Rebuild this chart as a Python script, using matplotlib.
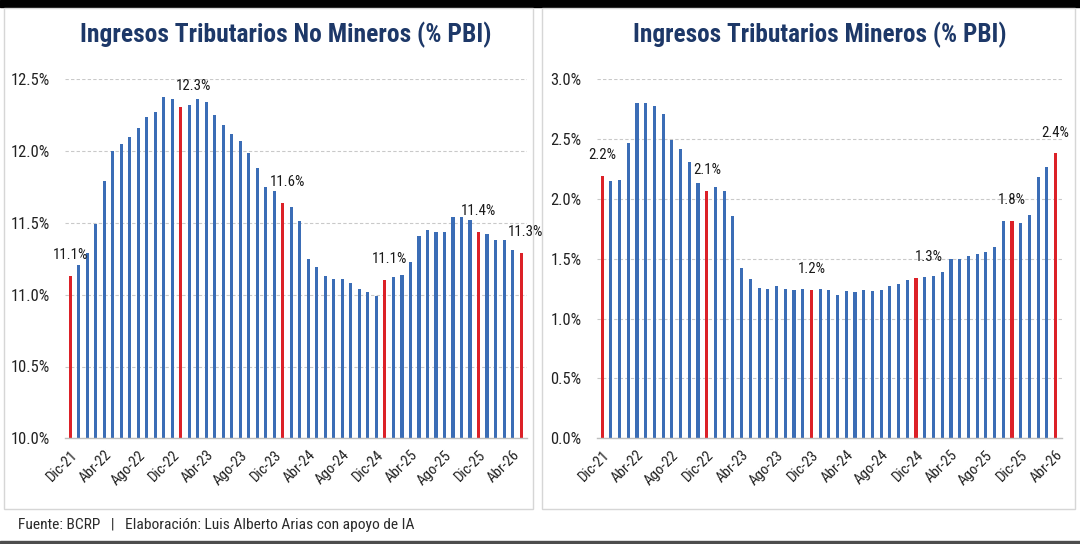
import numpy as np
import matplotlib
matplotlib.use('Agg')
import matplotlib.pyplot as plt
import matplotlib.font_manager as fm
from matplotlib.patches import Rectangle
from matplotlib.ticker import MultipleLocator, FuncFormatter

# ----- data -----
tick_labels = ['Dic-21', 'Abr-22', 'Ago-22', 'Dic-22', 'Abr-23', 'Ago-23', 'Dic-23',
               'Abr-24', 'Ago-24', 'Dic-24', 'Abr-25', 'Ago-25', 'Dic-25', 'Abr-26']

no_mineros = [11.13, 11.21, 11.29, 11.49, 11.79, 12.00, 12.05, 12.10, 12.16, 12.24,
              12.27, 12.38, 12.36, 12.31, 12.32, 12.36, 12.34, 12.25, 12.18, 12.12,
              12.07, 11.99, 11.88, 11.75, 11.72, 11.64, 11.61, 11.51, 11.25, 11.19,
              11.13, 11.11, 11.11, 11.08, 11.04, 11.02, 10.99, 11.10, 11.12, 11.14,
              11.23, 11.41, 11.45, 11.44, 11.44, 11.54, 11.54, 11.52, 11.44, 11.42,
              11.38, 11.38, 11.31, 11.29]
no_mineros_rojo = [0, 13, 25, 37, 48, 53]

mineros = [2.19, 2.15, 2.16, 2.47, 2.80, 2.80, 2.78, 2.71, 2.49, 2.42, 2.31, 2.13,
           2.07, 2.10, 2.07, 1.86, 1.42, 1.33, 1.26, 1.25, 1.27, 1.25, 1.24, 1.25,
           1.24, 1.25, 1.24, 1.20, 1.23, 1.22, 1.24, 1.23, 1.24, 1.27, 1.29, 1.32,
           1.34, 1.35, 1.36, 1.39, 1.50, 1.50, 1.52, 1.54, 1.56, 1.60, 1.82, 1.82,
           1.80, 1.87, 2.18, 2.27, 2.38]
mineros_rojo = [0, 12, 24, 36, 47, 52]

BLUE = '#3b6db6'
RED = '#dc2128'
NAVY = '#1d3868'

# pick a narrow font if one is there, else a plain sans
installed = {f.name for f in fm.fontManager.ttflist}
FONT = 'Lato' if 'Lato' in installed else 'DejaVu Sans'
for cand in ['Liberation Sans Narrow', 'Roboto Condensed', 'Open Sans Condensed',
             'Noto Sans Condensed', 'DejaVu Sans Condensed']:
    if cand in installed:
        FONT = cand
        break
plt.rcParams['font.family'] = [FONT, 'DejaVu Sans']
plt.rcParams['font.stretch'] = 'condensed'

W, H = 1080, 544


def fx(px):
    return px / W


def fy(py):
    return 1 - py / H


fig = plt.figure(figsize=(10.8, 5.44), dpi=100)
fig.patch.set_facecolor('white')
renderer = fig.canvas.get_renderer()


def size_for(text, target_px, weight='normal'):
    # font size that gives the text the width it has in the picture
    t = fig.text(0, 0, text, fontsize=10, fontweight=weight)
    w = t.get_window_extent(renderer=renderer).width
    t.remove()
    return 10 * target_px / w


YTICK_SIZE = size_for('12.5%', 39)
XTICK_SIZE = size_for('Dic-21', 37)
LABEL_SIZE = size_for('12.3%', 35)


def draw_panel(ax, values, red_idx, ylim, nudge):
    x = np.arange(len(values))
    colors = [RED if i in red_idx else BLUE for i in x]
    ax.bar(x, values, width=0.36, color=colors, zorder=2)

    ax.set_ylim(*ylim)
    ax.set_xlim(-0.62, len(values) - 0.3)
    ax.yaxis.set_major_locator(MultipleLocator(0.5))
    ax.yaxis.set_major_formatter(FuncFormatter(lambda v, p: f'{v:.1f}%'))
    ax.yaxis.grid(True, linestyle=(0, (3, 2)), color='#c9c9c9', linewidth=0.8)
    ax.set_axisbelow(True)

    ax.set_xticks(x[::4])
    ax.set_xticklabels(tick_labels, rotation=45, ha='right', rotation_mode='anchor',
                       fontsize=XTICK_SIZE, color='#222222')
    ax.tick_params(axis='x', length=0, pad=7)
    ax.tick_params(axis='y', length=0, pad=11, labelsize=YTICK_SIZE, labelcolor='#222222')

    for s in ['top', 'right', 'left']:
        ax.spines[s].set_visible(False)
    ax.spines['bottom'].set_color('#bfbfbf')
    ax.spines['bottom'].set_linewidth(1.0)

    # value labels on the red bars (a few sit a bit to the right in the original)
    for i in red_idx:
        ax.annotate(f'{values[i]:.1f}%', (i, values[i]), xytext=(nudge.get(i, 0), 10),
                    textcoords='offset points', ha='center', va='bottom',
                    fontsize=LABEL_SIZE, color='#1a1a1a', annotation_clip=False)


# frame of the screenshot and the two panel boxes
for r in [Rectangle((0, fy(7)), 1, 7 / H, color='black'),
          Rectangle((0, 0), 1, 3.5 / H, color='#4d4d4d'),
          Rectangle((fx(4), fy(509)), fx(529), 501 / H, facecolor='white',
                    edgecolor='#d6d6d6', linewidth=1),
          Rectangle((fx(542), fy(509)), fx(533), 501 / H, facecolor='white',
                    edgecolor='#d6d6d6', linewidth=1)]:
    r.set_transform(fig.transFigure)
    r.set_zorder(-5)
    fig.patches.append(r)

ax1 = fig.add_axes([fx(65), fy(438.3), fx(462), 359 / H])
ax2 = fig.add_axes([fx(596.7), fy(438.3), fx(465), 359 / H])
for ax in (ax1, ax2):
    ax.patch.set_alpha(0)
    ax.set_zorder(2)

draw_panel(ax1, no_mineros, no_mineros_rojo, (10.0, 12.5), {13: 9, 25: 3, 37: 3, 53: 3})
draw_panel(ax2, mineros, mineros_rojo, (0.0, 3.0), {36: 9})

t1 = 'Ingresos Tributarios No Mineros (% PBI)'
t2 = 'Ingresos Tributarios Mineros (% PBI)'
fig.text(fx(286), fy(35), t1, ha='center', va='center',
         fontsize=size_for(t1, 412, 'bold'), fontweight='bold', color=NAVY)
fig.text(fx(820), fy(35), t2, ha='center', va='center',
         fontsize=size_for(t2, 375, 'bold'), fontweight='bold', color=NAVY)

foot = 'Fuente: BCRP   |   Elaboración: Luis Alberto Arias con apoyo de IA'
fig.text(fx(18), fy(525), foot, ha='left', va='center',
         fontsize=size_for(foot, 394), color='#2b2b2b')

fig.savefig('out.png', dpi=100)
